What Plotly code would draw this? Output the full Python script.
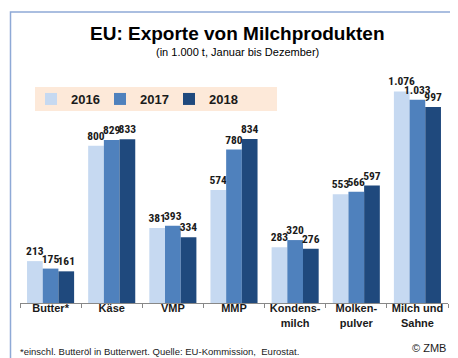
import plotly.graph_objects as go

categories = ["Butter*", "Käse", "VMP", "MMP", "Kondens-<br>milch", "Molken-<br>pulver", "Milch und<br>Sahne"]
years = ["2016", "2017", "2018"]
v2016 = [213, 800, 381, 574, 283, 553, 1076]
v2017 = [175, 829, 393, 780, 320, 566, 1033]
v2018 = [161, 833, 334, 834, 276, 597, 997]
colors = ["#C6D9F1", "#4F81BD", "#1F497D"]

W, H = 458, 358
fig = go.Figure()
for name, vals, col in zip(years, [v2016, v2017, v2018], colors):
    fig.add_trace(go.Bar(
        x=categories, y=vals, name=name, marker=dict(color=col, line=dict(width=0)),
        texttemplate="%{y:,}", textposition="outside", constraintext="none",
        cliponaxis=False,
        textfont=dict(family="Roboto Condensed, Open Sans Condensed, Liberation Sans", size=11.5,
                      color="#1a1a1a", weight="bold"),
        hoverinfo="skip",
    ))

def px_x(x):
    return x / W

def px_y(y):
    return (H - y) / H

fig.update_layout(
    width=W, height=H, margin=dict(l=0, r=0, t=0, b=0),
    paper_bgcolor="white", plot_bgcolor="white",
    separators=",.",
    barmode="group", bargap=0.23, bargroupgap=0,
    font=dict(family="Liberation Sans, Arial", color="#1a1a1a"),
    xaxis=dict(domain=[px_x(12), px_x(440)], showline=True, linecolor="#888888", linewidth=1,
               ticks="outside", tickson="boundaries", ticklen=4, tickcolor="#888888",
               ticklabelstandoff=-5,
               tickfont=dict(size=11, color="#1a1a1a", weight="bold"), showgrid=False),
    yaxis=dict(domain=[px_y(295), px_y(60)], range=[0, 1195], visible=False, showgrid=False),
    showlegend=True,
    legend=dict(orientation="h", x=px_x(23), xanchor="left", y=px_y(91), yanchor="middle",
                bgcolor="rgba(0,0,0,0)", font=dict(size=13, color="#1a1a1a", weight="bold"),
                entrywidth=24, entrywidthmode="pixels", traceorder="normal"),
    shapes=[
        dict(type="rect", xref="paper", yref="paper", x0=px_x(27), x1=px_x(269), y0=px_y(103), y1=px_y(79),
             fillcolor="#FDE9D9", line=dict(width=0), layer="below"),
        dict(type="rect", xref="paper", yref="paper", x0=px_x(2.5), x1=px_x(453), y0=px_y(355), y1=px_y(4),
             line=dict(color="#8EA9D6", width=1.5), fillcolor="rgba(0,0,0,0)"),
    ],
    annotations=[
        dict(text="<b>EU: Exporte von Milchprodukten</b>", x=px_x(229), y=px_y(26), xref="paper", yref="paper",
             showarrow=False, xanchor="center", yanchor="middle", font=dict(size=19, color="#000000")),
        dict(text="(in 1.000 t, Januar bis Dezember)", x=px_x(229), y=px_y(44), xref="paper", yref="paper",
             showarrow=False, xanchor="center", yanchor="middle", font=dict(size=11, color="#000000")),
        dict(text="*einschl. Butteröl in Butterwert. Quelle: EU-Kommission,  Eurostat.", x=px_x(10), y=px_y(343),
             xref="paper", yref="paper", showarrow=False, xanchor="left", yanchor="middle",
             font=dict(size=9.5, color="#1a1a1a")),
        dict(text="© ZMB", x=px_x(440), y=px_y(340), xref="paper", yref="paper", showarrow=False,
             xanchor="right", yanchor="middle", font=dict(size=11, color="#1a1a1a")),
    ],
)

fig.write_html("out.html")
